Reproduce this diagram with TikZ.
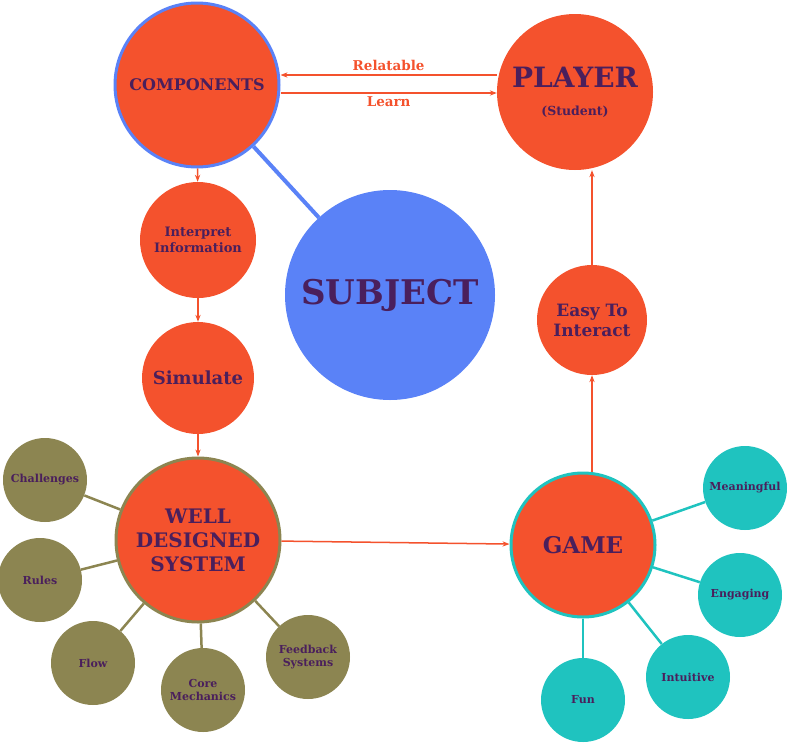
\documentclass[tikz,border=0pt]{standalone}
\usepackage{fontspec}
\setmainfont{DejaVu Serif}
\usetikzlibrary{arrows.meta}
\definecolor{org}{HTML}{F4522D}
\definecolor{txt}{HTML}{4A1F5C}
\definecolor{blu}{HTML}{5A82F7}
\definecolor{olv}{HTML}{8C8551}
\definecolor{tea}{HTML}{1FC3BF}
\tikzset{
  bub/.style={circle,fill=org,text=txt,font=\bfseries,align=center,inner sep=0pt},
  oli/.style={circle,fill=olv,text=txt,font=\bfseries\fontsize{11}{12.5}\selectfont,align=center,minimum size=84pt,inner sep=0pt},
  tel/.style={circle,fill=tea,text=txt,font=\bfseries\fontsize{11}{12.5}\selectfont,align=center,minimum size=84pt,inner sep=0pt},
  arr/.style={org,line width=1.5pt,-{Stealth[length=7pt]}},
  olink/.style={olv,line width=2.5pt},
  tlink/.style={tea,line width=2.5pt},
}
\begin{document}
\begin{tikzpicture}[x=1pt,y=-1pt]
\useasboundingbox (0,0) rectangle (800,742);
\node[bub,draw=blu,line width=3pt,minimum size=164pt,font=\bfseries\fontsize{16}{18}\selectfont] (comp) at (197,85) {COMPONENTS};
\node[bub,minimum size=156pt,font=\bfseries\fontsize{28}{30}\selectfont] (play) at (575,92) {PLAYER\\[-2pt]{\fontsize{12.5}{14}\selectfont (Student)}};
\node[circle,fill=blu,minimum size=210pt,text=txt,font=\bfseries\fontsize{34}{38}\selectfont] (subj) at (390,295) {SUBJECT};
\node[bub,minimum size=116pt,font=\bfseries\fontsize{13}{16}\selectfont] (interp) at (198,240) {Interpret\\Information};
\node[bub,minimum size=112pt,font=\bfseries\fontsize{18}{21}\selectfont] (sim) at (198,378) {Simulate};
\node[bub,draw=olv,line width=3pt,minimum size=164pt,font=\bfseries\fontsize{20}{24}\selectfont] (wds) at (198,540) {WELL\\DESIGNED\\SYSTEM};
\node[bub,draw=tea,line width=3pt,minimum size=144pt,font=\bfseries\fontsize{23}{26}\selectfont] (game) at (583,545) {GAME};
\node[bub,minimum size=110pt,font=\bfseries\fontsize{17}{20}\selectfont] (easy) at (592,320) {Easy To\\Interact};
\node[oli] (ch) at (45,480) {Challenges};
\node[oli] (ru) at (40,580) {Rules};
\node[oli] (fl) at (93,663) {Flow};
\node[oli] (cm) at (203,690) {Core\\Mechanics};
\node[oli] (fb) at (308,657) {Feedback\\Systems};
\node[tel] (me) at (745,488) {Meaningful};
\node[tel] (en) at (740,595) {Engaging};
\node[tel] (in) at (688,677) {Intuitive};
\node[tel] (fu) at (583,700) {Fun};
\draw[blu,line width=4pt] (comp) -- (subj);
\foreach \n in {ch,ru,fl,cm,fb} \draw[olink] (wds) -- (\n);
\foreach \n in {me,en,in,fu} \draw[tlink] (game) -- (\n);
\draw[arr] (play.west |- 0,75) -- node[above,font=\bfseries\fontsize{13.5}{15}\selectfont,text=org]{Relatable} (comp.east |- 0,75);
\draw[arr] (comp.east |- 0,93) -- node[below,font=\bfseries\fontsize{13.5}{15}\selectfont,text=org]{Learn} (play.west |- 0,93);
\draw[arr] (comp) -- (interp);
\draw[arr] (interp) -- (sim);
\draw[arr] (sim) -- (wds);
\draw[arr] (wds) -- (game);
\draw[arr] (easy.south |- game.north) -- (easy.south);
\draw[arr] (easy) -- (easy.north |- play.south);
\end{tikzpicture}
\end{document}
